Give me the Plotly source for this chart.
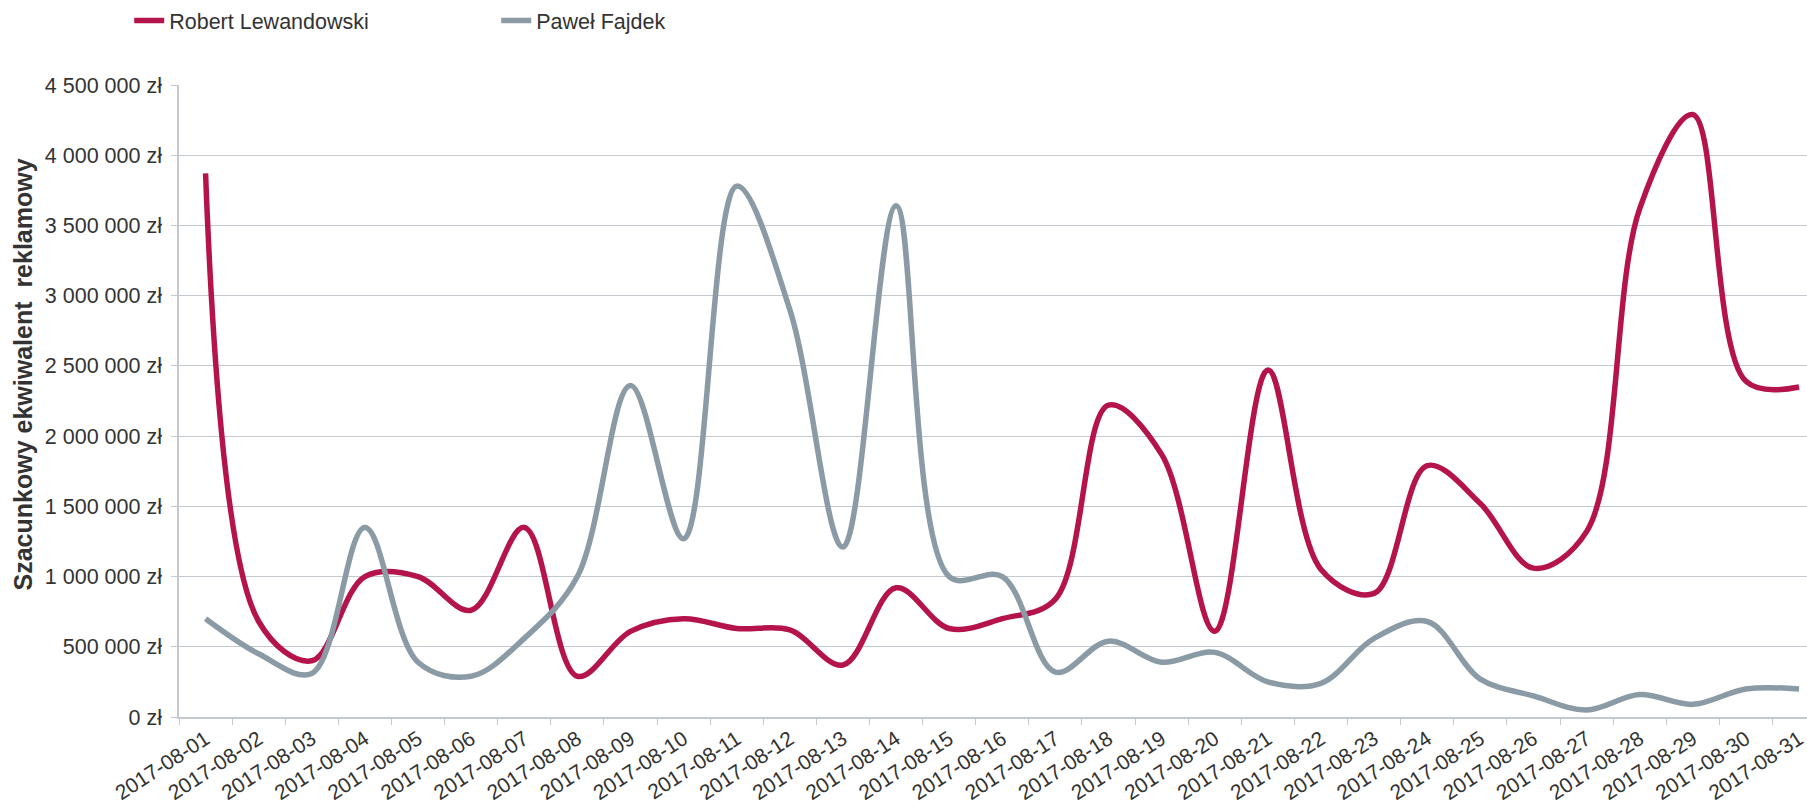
import plotly.graph_objects as go

dates = [f"2017-08-{d:02d}" for d in range(1, 32)]

lewandowski = [3870000, 680000, 400000, 1000000, 1000000, 760000, 1350000, 290000,
               610000, 700000, 630000, 620000, 370000, 920000, 630000, 700000,
               840000, 2220000, 1870000, 610000, 2470000, 1050000, 880000, 1790000,
               1520000, 1060000, 1320000, 3620000, 4290000, 2390000, 2350000]

fajdek = [700000, 450000, 310000, 1350000, 390000, 290000, 560000, 1000000,
          2360000, 1270000, 3780000, 2900000, 1210000, 3640000, 1000000, 1000000,
          320000, 540000, 390000, 460000, 250000, 240000, 560000, 680000,
          270000, 150000, 50000, 160000, 90000, 200000, 200000]

y_tick_vals = [0, 500000, 1000000, 1500000, 2000000, 2500000, 3000000, 3500000, 4000000, 4500000]
y_tick_text = ["0 zł", "500 000 zł", "1 000 000 zł", "1 500 000 zł", "2 000 000 zł",
               "2 500 000 zł", "3 000 000 zł", "3 500 000 zł", "4 000 000 zł", "4 500 000 zł"]

names = ["Robert Lewandowski", "Paweł Fajdek"]
colors = ["#B5134B", "#8B9BA5"]
y_title = "Szacunkowy ekwiwalent  reklamowy"

FONT = "Liberation Sans, Arial, sans-serif"
TXT = "#333333"

fig = go.Figure()
for name, vals, col in zip(names, [lewandowski, fajdek], colors):
    fig.add_trace(go.Scatter(
        x=dates, y=vals, name=name, mode="lines",
        line=dict(color=col, width=5.5, shape="spline", smoothing=1.0),
    ))

fig.update_layout(
    width=1807, height=808,
    margin=dict(l=179, r=0, t=85, b=91, autoexpand=False),
    paper_bgcolor="white", plot_bgcolor="white",
    font=dict(family=FONT, size=21, color=TXT),
    showlegend=True,
    legend=dict(orientation="h", xref="container", yref="container",
                x=0.0715, y=1.0, xanchor="left", yanchor="top",
                font=dict(family=FONT, size=21.5, color=TXT),
                entrywidth=322, entrywidthmode="pixels", itemwidth=30),
    xaxis=dict(type="category", range=[-0.5, 30.15], showgrid=False,
               showline=True, linecolor="#C3C9CE", linewidth=1.5,
               ticks="outside", tickson="boundaries", ticklen=6, tickcolor="#C3C9CE",
               tickangle=-33, automargin=False,
               tickfont=dict(family=FONT, size=21, color=TXT)),
    yaxis=dict(range=[0, 4500000], tickvals=y_tick_vals, ticktext=y_tick_text,
               showgrid=True, gridcolor="#C3C9CE", gridwidth=1.2,
               showline=True, linecolor="#C3C9CE", linewidth=1.5,
               ticks="outside", ticklen=6, tickcolor="#C3C9CE",
               ticklabelstandoff=5,
               zeroline=False, automargin=False,
               tickfont=dict(family=FONT, size=21.5, color=TXT)),
    annotations=[dict(text=f"<b>{y_title}</b>", textangle=-90,
                      xref="paper", yref="paper", x=-0.0958, y=0.542,
                      xanchor="center", yanchor="middle", showarrow=False,
                      font=dict(family=FONT, size=25, color=TXT))],
)

fig.write_html(
    "out.html",
    config={"displayModeBar": False},
    post_script="document.body.style.margin='0';document.body.style.overflow='hidden';",
)
